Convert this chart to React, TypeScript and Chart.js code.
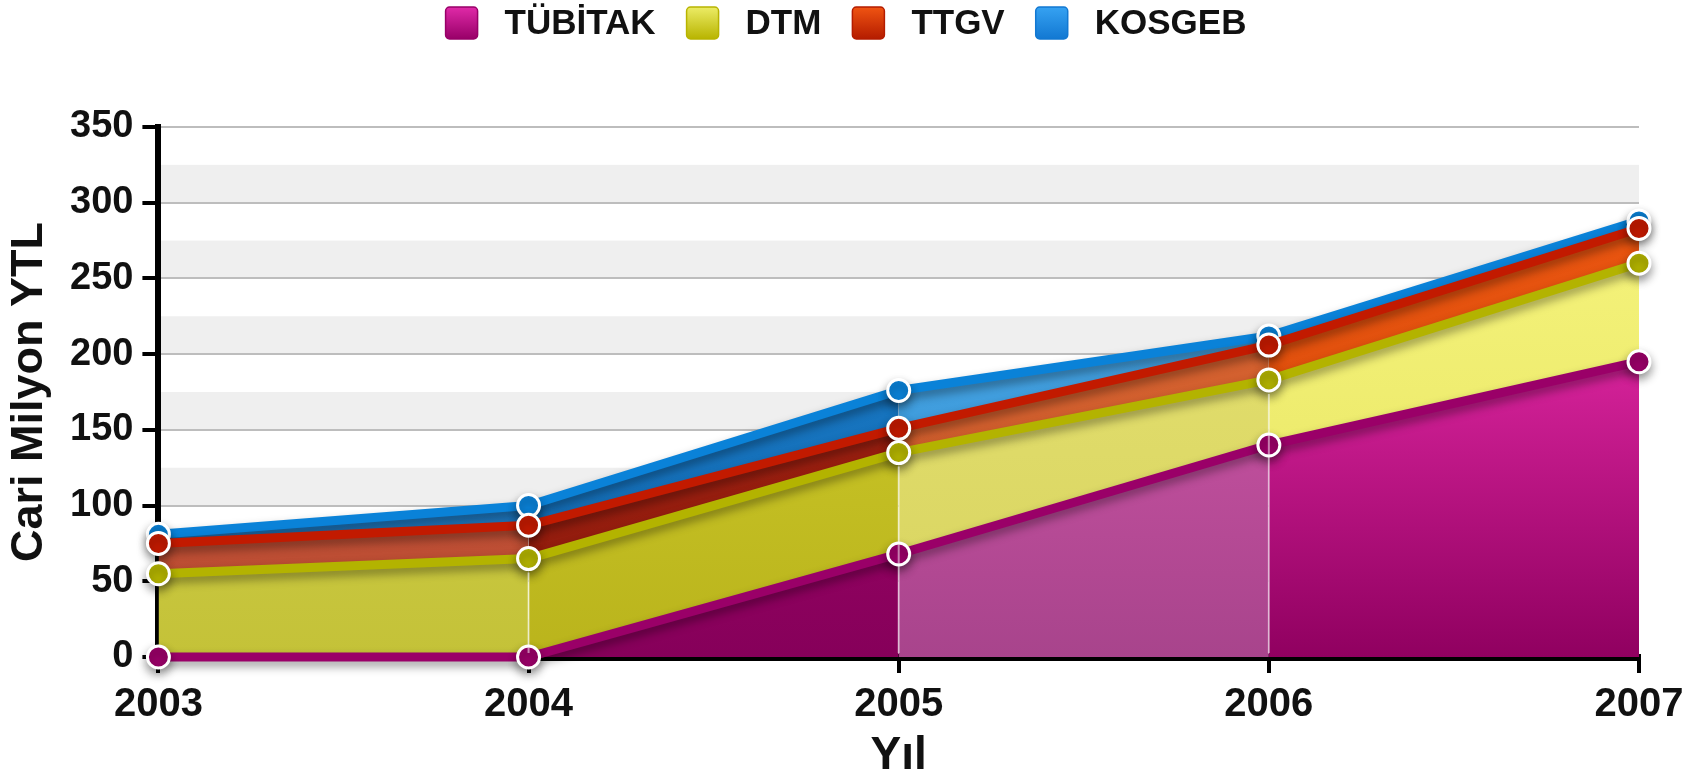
import React, { useEffect, useRef } from "react";
import { Chart, registerables } from "chart.js";

Chart.register(...registerables);

const years = ["2003", "2004", "2005", "2006", "2007"];
const tubitak = [0, 0, 68, 140, 195];
const dtm = [55, 65, 67, 43, 65];
const ttgv = [20, 22, 16, 23, 23];
const kosgeb = [6, 13, 25, 6, 5];

const seriesNames = ["TÜBİTAK", "DTM", "TTGV", "KOSGEB"];
const lineColors = ["#9a0068", "#b3b300", "#c21a00", "#0a82d8"];
const legendTop = ["#e02aa8", "#ecec66", "#f05412", "#36a2f2"];
const legendBottom = ["#980068", "#b8b400", "#b41c00", "#1278d2"];
// per-segment fill colours (top, bottom) for each series
const segTop = [
  ["#9a0068", "#a8086e", "#d458aa", "#f030b0"],
  ["#d2d250", "#cfcc2c", "#e4e070", "#f4f27a"],
  ["#cc5a40", "#a82414", "#d86432", "#e85410"],
  ["#2a8ad0", "#1a7cc8", "#48a6e6", "#3a98e0"],
];
const segBottom = [
  ["#80004f", "#86005a", "#a8448c", "#900060"],
  ["#c4c238", "#bab41c", "#d8d460", "#e6e460"],
  ["#b84a30", "#8c1a0c", "#c85828", "#d04808"],
  ["#1a70b8", "#1268b0", "#3490d0", "#2a88d0"],
];

const FONT = "'Liberation Sans', Arial, sans-serif";

const bandsPlugin = {
  id: "bands",
  beforeDraw(chart: any) {
    const { ctx, chartArea, scales } = chart;
    const y = scales.y;
    ctx.save();
    ctx.fillStyle = "#ffffff";
    ctx.fillRect(0, 0, chart.width, chart.height);
    ctx.fillStyle = "#efefef";
    for (let v = 0; v < 350; v += 50) {
      const top = y.getPixelForValue(v + 25);
      const bot = y.getPixelForValue(v);
      ctx.fillRect(chartArea.left, top, chartArea.right - chartArea.left, bot - top);
    }
    ctx.restore();
  },
};

const shadowPlugin = {
  id: "lineShadow",
  beforeDatasetDraw(chart: any) {
    const ctx = chart.ctx;
    ctx.save();
    ctx.shadowColor = "rgba(0,0,0,0.38)";
    ctx.shadowBlur = 10;
    ctx.shadowOffsetY = 5;
  },
  afterDatasetDraw(chart: any) {
    chart.ctx.restore();
  },
};

const vLinesPlugin = {
  id: "vlines",
  afterDatasetsDraw(chart: any) {
    const { ctx, scales } = chart;
    const x = scales.x;
    const y = scales.y;
    ctx.save();
    ctx.strokeStyle = "rgba(255,255,255,0.5)";
    ctx.lineWidth = 2;
    for (let i = 1; i < years.length - 1; i++) {
      const px = x.getPixelForValue(i);
      const topV = tubitak[i] + dtm[i];
      ctx.beginPath();
      ctx.moveTo(px, y.getPixelForValue(0) - 4);
      ctx.lineTo(px, y.getPixelForValue(topV) + 14);
      ctx.stroke();
    }
    ctx.restore();
  },
};

const legendPlugin = {
  id: "customLegend",
  afterDraw(chart: any) {
    const { ctx } = chart;
    const box = 32;
    const gap = 27;
    const spacing = 31;
    const cy = 23;
    ctx.save();
    ctx.font = `bold 35px ${FONT}`;
    const widths = seriesNames.map((n) => ctx.measureText(n).width);
    const total = widths.reduce((a, w) => a + box + gap + w, 0) + spacing * (seriesNames.length - 1);
    let x = chart.width / 2 - total / 2 - 6;
    seriesNames.forEach((n, i) => {
      const g = ctx.createLinearGradient(0, cy - box / 2, 0, cy + box / 2);
      g.addColorStop(0, legendTop[i]);
      g.addColorStop(1, legendBottom[i]);
      ctx.fillStyle = g;
      ctx.beginPath();
      (ctx as any).roundRect(x, cy - box / 2, box, box, 4);
      ctx.fill();
      ctx.strokeStyle = legendBottom[i];
      ctx.lineWidth = 1.5;
      ctx.stroke();
      ctx.fillStyle = "#111";
      ctx.textBaseline = "middle";
      ctx.textAlign = "left";
      ctx.fillText(n, x + box + gap, cy + 1);
      x += box + gap + widths[i] + spacing;
    });
    ctx.restore();
  },
};

export default function App() {
  const ref = useRef<HTMLCanvasElement>(null);
  useEffect(() => {
    if (!ref.current) return;
    const seriesData = [tubitak, dtm, ttgv, kosgeb];
    const segFill = (i: number) => (c: any) => {
      const area = c.chart.chartArea;
      const s = c.p0DataIndex ?? 0;
      if (!area) return segTop[i][s];
      const g = c.chart.ctx.createLinearGradient(0, area.top + 120, 0, area.bottom);
      g.addColorStop(0, segTop[i][s]);
      g.addColorStop(1, segBottom[i][s]);
      return g;
    };
    const chart = new Chart(ref.current, {
      type: "line",
      data: {
        labels: years,
        datasets: seriesData.map((d, i) => ({
          label: seriesNames[i],
          data: d,
          borderColor: lineColors[i],
          backgroundColor: segTop[i][3],
          segment: { backgroundColor: segFill(i) },
          borderWidth: 9,
          fill: i === 0 ? "origin" : "-1",
          pointRadius: 11,
          pointBackgroundColor: lineColors[i],
          pointBorderColor: "#ffffff",
          pointBorderWidth: 3,
          tension: 0,
          clip: false,
        })),
      },
      options: {
        responsive: false,
        animation: false,
        layout: { padding: { left: 3, right: 65, top: 127, bottom: 2 } },
        plugins: {
          tooltip: { enabled: false },
          legend: { display: false },
        },
        scales: {
          x: {
            offset: false,
            grid: {
              drawOnChartArea: false,
              tickLength: 16,
              tickColor: "#000",
              lineWidth: 4,
            },
            border: { color: "#000", width: 7 },
            ticks: {
              color: "#111",
              padding: 8,
              maxRotation: 0,
              font: { family: FONT, size: 40, weight: "bold" },
            },
            title: {
              display: true,
              text: "Yıl",
              color: "#111",
              padding: { top: -4, bottom: 0 },
              font: { family: FONT, size: 46, weight: "bold", lineHeight: 1 },
            },
          },
          y: {
            stacked: true,
            min: 0,
            max: 350,
            grid: {
              color: "#bdbdbd",
              lineWidth: 2,
              tickLength: 16,
              tickColor: (c: any) => (c.tick && c.tick.value % 50 === 0 ? "#000" : "rgba(0,0,0,0)"),
              tickWidth: 4,
            },
            border: { color: "#000", width: 6 },
            ticks: {
              stepSize: 25,
              color: "#111",
              padding: 9,
              font: { family: FONT, size: 38, weight: "bold" },
              callback: (v: any) => (Number(v) % 50 === 0 ? String(v) : ""),
            },
            title: {
              display: true,
              text: "Cari Milyon YTL",
              color: "#111",
              padding: { top: 0, bottom: 4 },
              font: { family: FONT, size: 45, weight: "bold" },
            },
          },
        },
      },
      plugins: [bandsPlugin, shadowPlugin, vLinesPlugin, legendPlugin],
    } as any);
    return () => chart.destroy();
  }, []);
  return (
    <div style={{ position: "fixed", left: 0, top: 0, width: 1704, height: 781, background: "#fff" }}>
      <canvas ref={ref} width={1704} height={781} style={{ width: 1704, height: 781, display: "block" }} />
    </div>
  );
}
